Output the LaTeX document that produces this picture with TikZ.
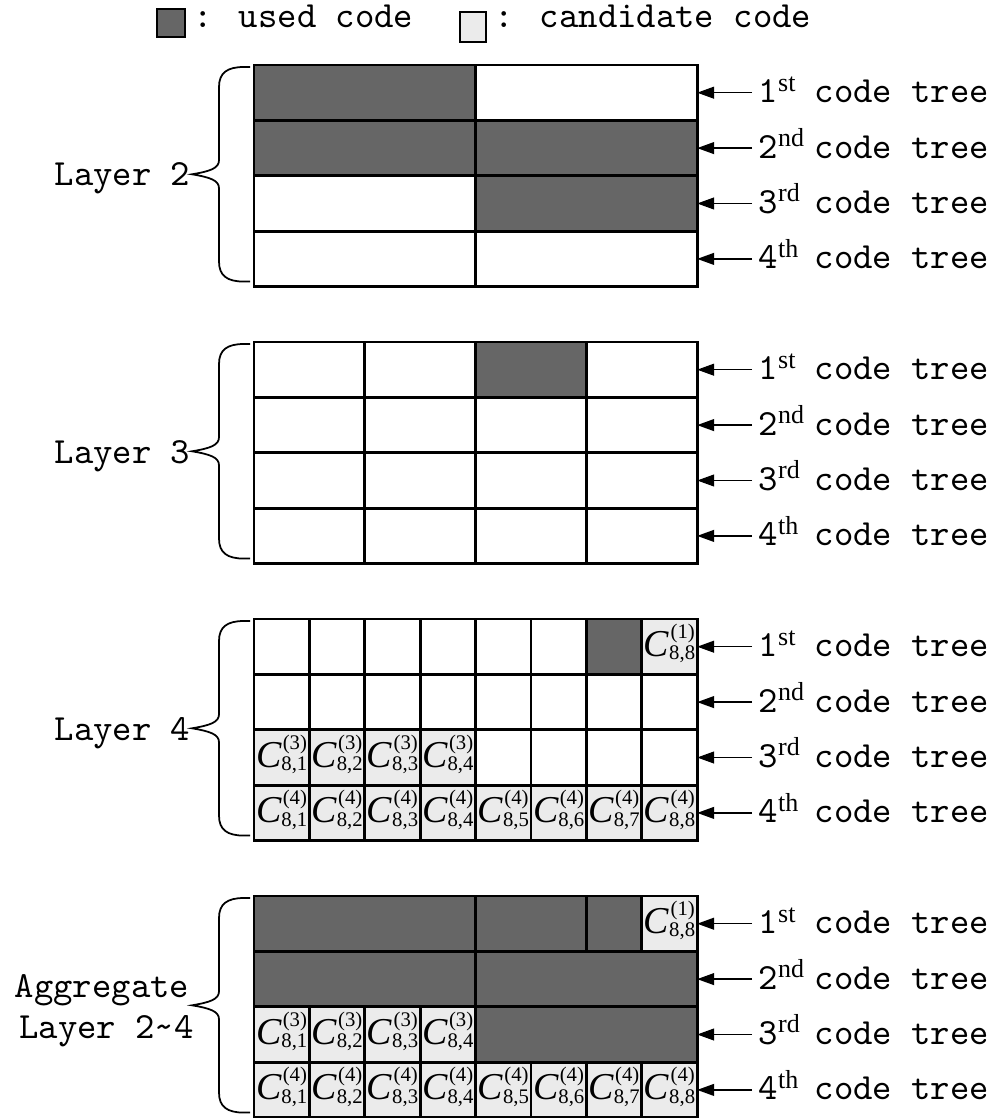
\documentclass[tikz,border=0pt]{standalone}
\usepackage{fontspec}
\newfontfamily\timesfont{Liberation Serif}
\usetikzlibrary{arrows.meta}
\definecolor{usedgray}{RGB}{102,102,102}
\definecolor{candgray}{RGB}{235,235,235}
% ordinal suffix and candidate code label
\newcommand\ordsup[1]{\raisebox{3.3pt}{\timesfont\fontsize{7.4}{8}\selectfont #1}}
\newcommand\candcode[2]{{\timesfont\fontsize{10.8}{12}\selectfont\itshape C}%
  {\timesfont\fontsize{5.9}{7}\selectfont
   \rlap{\hspace{0.4pt}\raisebox{5.2pt}{(#1)}}\raisebox{-0.9pt}{8,#2}}}
\tikzset{
  cell/.style={draw=black,line width=0.8pt},
  usedcell/.style={cell,fill=usedgray},
  freecell/.style={cell,fill=white},
  candcell/.style={cell,fill=candgray},
  lbl/.style={font=\ttfamily\fontsize{10.5}{12}\selectfont,inner sep=0pt},
  treelbl/.style={lbl,anchor=west,inner xsep=0.06cm,
                  text height=0.30cm,text depth=0.10cm},
  candlbl/.style={anchor=base,inner sep=0pt},
  arr/.style={-{Triangle[length=0.17cm,width=0.12cm]},line width=0.35pt},
  bracepath/.style={line width=0.5pt},
}

\begin{document}
\begin{tikzpicture}[x=1cm,y=-1cm]
  \useasboundingbox (0,0) rectangle (10.01,11.18);

  % key
  \node[usedcell,minimum size=0.28cm,inner sep=0pt,line width=0.6pt] (keyused) at (1.71,0.23) {};
  \node[lbl,anchor=base west] (keyusedtxt) at (1.93,0.28) {: used code};
  \node[candcell,minimum width=0.26cm,minimum height=0.30cm,inner sep=0pt,line width=0.6pt] (keycand) at (4.73,0.27) {};
  \node[lbl,anchor=base west] (keycandtxt) at (4.94,0.28) {: candidate code};

  % braces in front of each block
  \foreach \ty in {0.65,3.42,6.19,8.96}{
    \pgfmathsetmacro\brT{\ty+0.02}
    \pgfmathsetmacro\brB{\ty+2.166}
    \pgfmathsetmacro\brM{(\brT+\brB)/2}
    \draw[bracepath] (2.50,\brT) -- (2.44,\brT)
      .. controls (2.27,\brT) and (2.19,\brT+0.06) .. (2.19,\brT+0.20)
      -- (2.19,\brM-0.14)
      .. controls (2.19,\brM-0.06) and (2.10,\brM-0.03) .. (1.92,\brM)
      .. controls (2.10,\brM+0.03) and (2.19,\brM+0.06) .. (2.19,\brM+0.14)
      -- (2.19,\brB-0.20)
      .. controls (2.19,\brB-0.06) and (2.27,\brB) .. (2.44,\brB) -- (2.50,\brB);
  }
  \node[lbl,anchor=base east] (lay2) at (1.91,1.86) {Layer 2};
  \node[lbl,anchor=base east] (lay3) at (1.91,4.63) {Layer 3};
  \node[lbl,anchor=base east] (lay4) at (1.91,7.40) {Layer 4};
  \node[lbl,anchor=base] (aggtop) at (1.02,9.97) {Aggregate};
  \node[lbl,anchor=base] (aggbot) at (1.065,10.38) {Layer 2\textasciitilde 4};

  % code grids, one unit = one cell
  \begin{scope}[shift={(2.54,0.65)},x=0.554cm,y=-0.554cm]
    % layer 2
    \foreach \r/\ca/\cb/\s in {0/0/4/usedcell,0/4/8/freecell,1/0/4/usedcell,1/4/8/usedcell,
                               2/0/4/freecell,2/4/8/usedcell,3/0/4/freecell,3/4/8/freecell}
      \draw[\s] (\ca,\r) rectangle (\cb,\r+1);
    % layer 3
    \foreach \r in {5,...,8}
      \foreach \ca in {0,2,4,6}
        \draw[freecell] (\ca,\r) rectangle ++(2,1);
    \draw[usedcell] (4,5) rectangle ++(2,1);
    % layer 4
    \foreach \r in {10,...,13}
      \foreach \ca in {0,...,7}
        \draw[freecell] (\ca,\r) rectangle ++(1,1);
    \draw[usedcell] (6,10) rectangle ++(1,1);
    % aggregate of layers 2-4
    \foreach \r/\ca/\cb in {15/0/4,15/4/6,15/6/7,16/0/4,16/4/8,17/4/8}
      \draw[usedcell] (\ca,\r) rectangle (\cb,\r+1);
    % candidate codes
    \foreach \r/\n/\cols in {10/1/{8},15/1/{8},12/3/{1,...,4},17/3/{1,...,4},
                             13/4/{1,...,8},18/4/{1,...,8}}
      \foreach \k in \cols {
        \draw[candcell] (\k-1,\r) rectangle ++(1,1);
        \node[candlbl] (cd\r\k) at (\k-0.5,\r+0.68) {\candcode{\n}{\k}};
      }
    % code tree labels
    \foreach \L in {0,5,10,15}
      \foreach \r/\nr/\sfx in {0/1/st,1/2/nd,2/3/rd,3/4/th}{
        \coordinate (edge\L\r) at (8,\L+\r+0.5);
        \node[treelbl] (tree\L\r) at (8.99,\L+\r+0.5)
          {\makebox[0.56cm][l]{\nr\ordsup{\sfx}}code tree};
        \draw[arr] (tree\L\r.west) -- (edge\L\r);
      }
  \end{scope}
\end{tikzpicture}
\end{document}
